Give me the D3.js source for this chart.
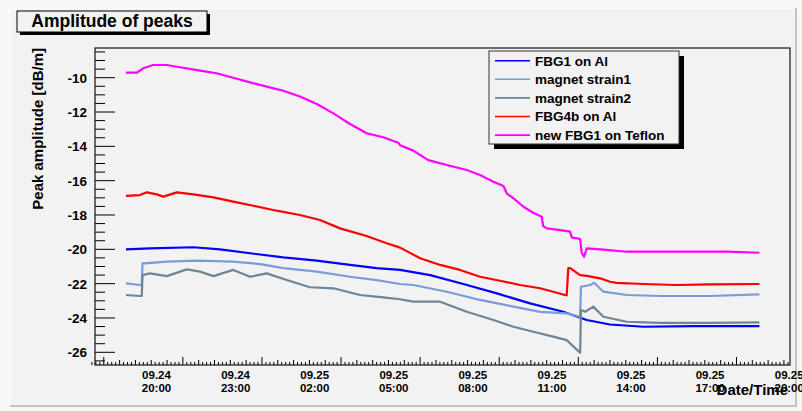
<!DOCTYPE html>
<html lang="en">
<head>
    <meta charset="UTF-8">
    <script src="https://cdn.jsdelivr.net/npm/d3@7"></script>
    <style>
        body{ margin:0; background:#f7f7f7; }
        svg text{
            font-family:"Liberation Sans", Arial, sans-serif;
            font-weight:bold;
            fill:#000;
        }
    </style>
    <title>Amplitude of peaks</title>
</head>
<body>
    <script>
        // time in hours since 09.24 00:00, value in dB/m
        var fbg1Al = [[18.84,-20.0],[19.75,-19.94],[21.40,-19.88],[22.41,-20.0],[23.55,-20.23],[24.81,-20.47],
            [26.08,-20.66],[27.34,-20.91],[28.35,-21.1],[29.24,-21.2],[30.38,-21.5],[31.64,-22.02],[32.91,-22.57],
            [34.17,-23.15],[35.43,-23.64],[36.32,-24.12],[37.20,-24.38],[38.47,-24.51],[40.37,-24.47],[42.87,-24.47]];
        var strain1 = [[18.84,-21.98],[19.37,-22.08],[19.44,-22.08],[19.47,-20.82],[19.56,-20.82],[20.39,-20.72],
            [21.53,-20.66],[22.91,-20.72],[23.93,-20.86],[24.81,-21.1],[26.08,-21.3],[27.34,-21.6],[28.35,-21.79],
            [29.24,-22.02],[29.74,-22.08],[31.01,-22.47],[32.27,-22.95],[33.54,-23.34],[34.55,-23.64],[35.56,-23.73],
            [36.07,-23.93],[36.10,-22.18],[36.45,-22.08],[36.60,-21.95],[36.95,-22.47],[37.84,-22.66],[39.10,-22.72],
            [41.00,-22.72],[42.87,-22.62]];
        var strain2 = [[18.84,-22.66],[19.37,-22.72],[19.44,-22.72],[19.47,-21.5],[19.75,-21.4],[20.39,-21.56],
            [21.15,-21.17],[21.65,-21.3],[22.16,-21.56],[22.91,-21.2],[23.55,-21.6],[24.18,-21.4],[24.94,-21.79],
            [25.82,-22.21],[26.71,-22.27],[27.72,-22.66],[28.60,-22.8],[29.24,-22.91],[29.74,-23.05],[30.76,-23.05],
            [31.77,-23.64],[32.78,-24.12],[33.54,-24.51],[34.29,-24.8],[35.05,-25.09],[35.56,-25.29],[36.07,-26.03],
            [36.10,-23.54],[36.26,-23.64],[36.57,-23.34],[36.95,-23.93],[37.84,-24.22],[39.10,-24.28],[41.00,-24.28],
            [42.87,-24.26]];
        var fbg4bAl = [[18.84,-16.89],[19.37,-16.84],[19.63,-16.68],[20.01,-16.8],[20.26,-16.93],[20.77,-16.68],
            [21.40,-16.8],[22.16,-16.97],[22.91,-17.22],[23.67,-17.46],[24.56,-17.75],[25.44,-18.0],[26.20,-18.29],
            [26.96,-18.78],[27.97,-19.22],[28.73,-19.65],[29.24,-19.9],[30.00,-20.52],[30.76,-20.91],[31.51,-21.2],
            [32.27,-21.6],[33.03,-21.83],[33.79,-22.08],[34.55,-22.27],[35.05,-22.47],[35.56,-22.69],[35.62,-21.1],
            [35.69,-21.1],[36.07,-21.5],[36.32,-21.55],[36.83,-21.69],[37.20,-21.89],[37.46,-21.95],[38.47,-22.02],
            [39.73,-22.08],[41.00,-22.04],[42.87,-22.02]];
        var fbg1Teflon = [[18.84,-9.71],[19.25,-9.71],[19.50,-9.45],[19.87,-9.26],[20.39,-9.26],[20.89,-9.39],
            [21.65,-9.59],[22.28,-9.74],[22.91,-10.0],[23.55,-10.27],[24.18,-10.52],[24.81,-10.76],[25.44,-11.1],
            [26.08,-11.53],[26.71,-12.08],[27.34,-12.7],[27.97,-13.24],[28.60,-13.47],[29.17,-13.79],[29.24,-13.93],
            [29.74,-14.25],[30.31,-14.8],[31.01,-15.09],[31.77,-15.38],[32.27,-15.67],[32.78,-16.06],[33.16,-16.31],
            [33.29,-16.75],[33.54,-17.03],[33.92,-17.52],[34.29,-17.87],[34.61,-18.1],[34.67,-18.65],[34.80,-18.78],
            [35.31,-18.88],[35.69,-18.97],[35.75,-19.3],[36.07,-19.4],[36.13,-20.2],[36.22,-20.43],[36.32,-19.94],
            [36.95,-20.02],[37.84,-20.14],[39.10,-20.14],[40.37,-20.14],[41.63,-20.14],[42.87,-20.2]];

        var seriesNames = ["FBG1 on Al","magnet strain1","magnet strain2","FBG4b on Al","new FBG1 on Teflon"];
        var seriesData = [fbg1Al, strain1, strain2, fbg4bAl, fbg1Teflon];
        var colors = ["#0000ff","#7b9bd8","#6d8596","#ff0000","#ff00ff"];
        var yTicks = [-26,-24,-22,-20,-18,-16,-14,-12,-10];
        var xTicks = [20,23,26,29,32,35,38,41,44];

        var W = 802, H = 411;
        var padL = 95, padR = 790, padT = 48, padB = 365;

        var svg = d3.select("body")
            .append("svg")
            .attr("width",W)
            .attr("height",H);

        // pad
        svg.append("rect").attr("x",10).attr("y",8).attr("width",786).attr("height",398)
            .attr("fill","#f2f2f2");
        svg.append("path").attr("d","M10,406V8H796").attr("fill","none").attr("stroke","#fbfbfb").attr("stroke-width",2);
        svg.append("path").attr("d","M10,406H796V8").attr("fill","none").attr("stroke","#c4c4c4").attr("stroke-width",2);

        var x = d3.scaleLinear().domain([17.667,44.03]).range([padL,padR]);
        var y = d3.scaleLinear().domain([-26.74,-8.27]).range([padB,padT]);

        var axisG = svg.append("g").attr("stroke","#000").attr("stroke-width",1);

        // y ticks (inward)
        d3.range(-26.5,-8.4,0.5).forEach(function(v){
            var major = Math.abs(v % 2) < 0.01;
            axisG.append("line")
                .attr("x1",padL).attr("x2",padL+(major?20:10))
                .attr("y1",y(v)).attr("y2",y(v));
        });
        svg.selectAll(".ylab")
            .data(yTicks)
            .enter()
            .append("text")
            .attr("class","ylab")
            .attr("x",87)
            .attr("y",function(d){ return y(d); })
            .attr("dy",".36em")
            .attr("text-anchor","end")
            .style("font-size","13.5px")
            .text(function(d){ return d; });

        // x ticks (inward)
        d3.range(17.55,44.04,0.15).forEach(function(t){
            var k = Math.round(t/0.15);
            var len = (k % 20 === 0) ? 8 : (k % 4 === 0 ? 5 : 3);
            axisG.append("line")
                .attr("x1",x(t)).attr("x2",x(t))
                .attr("y1",padB).attr("y2",padB-len);
        });
        var xl = svg.selectAll(".xlab")
            .data(xTicks)
            .enter()
            .append("text")
            .attr("class","xlab")
            .attr("text-anchor","middle")
            .style("font-size","11.5px");
        xl.append("tspan")
            .attr("x",function(d){ return x(d); })
            .attr("y",379)
            .text(function(d){ return "09." + (24 + Math.floor(d/24)); });
        xl.append("tspan")
            .attr("x",function(d){ return x(d); })
            .attr("y",392)
            .text(function(d){ return d3.format("02")(d % 24) + ":00"; });

        // series
        var line = d3.line()
            .x(function(d){ return x(d[0]); })
            .y(function(d){ return y(d[1]); });
        svg.selectAll(".series")
            .data(seriesData)
            .enter()
            .append("path")
            .attr("class","series")
            .attr("d",line)
            .attr("fill","none")
            .attr("stroke",function(d,i){ return colors[i]; })
            .attr("stroke-width",2.2)
            .attr("stroke-linejoin","round");

        // frame
        svg.append("rect")
            .attr("x",padL).attr("y",padT)
            .attr("width",padR-padL).attr("height",padB-padT)
            .attr("fill","none").attr("stroke","#111").attr("stroke-width",1.2);

        // axis titles
        svg.append("text")
            .attr("x",788).attr("y",395)
            .attr("text-anchor","end")
            .style("font-size","15px")
            .text("Date/Time");
        svg.append("text")
            .attr("transform","translate(43,48) rotate(-90)")
            .attr("text-anchor","end")
            .style("font-size","15px")
            .text("Peak amplitude [dB/m]");

        // title box
        svg.append("rect").attr("x",20).attr("y",14).attr("width",190).attr("height",21).attr("fill","#000");
        svg.append("rect").attr("x",17).attr("y",11).attr("width",190).attr("height",21)
            .attr("fill","#f2f2f2").attr("stroke","#000");
        svg.append("text")
            .attr("x",112).attr("y",27)
            .attr("text-anchor","middle")
            .style("font-size","17.5px")
            .text("Amplitude of peaks");

        // legend
        var lg = svg.append("g");
        lg.append("rect").attr("x",494).attr("y",56).attr("width",190).attr("height",93).attr("fill","#000");
        lg.append("rect").attr("x",489).attr("y",51).attr("width",190).attr("height",93)
            .attr("fill","#f2f2f2").attr("stroke","#333");
        var item = lg.selectAll(".item")
            .data(seriesNames)
            .enter()
            .append("g")
            .attr("transform",function(d,i){ return "translate(0,"+(60.7+i*18.6)+")"; });
        item.append("line")
            .attr("x1",495).attr("x2",530)
            .attr("stroke",function(d,i){ return colors[i]; })
            .attr("stroke-width",1.6);
        item.append("text")
            .attr("x",535)
            .attr("dy",".36em")
            .style("font-size","13.5px")
            .text(function(d){ return d; });
    </script>
</body>
</html>
